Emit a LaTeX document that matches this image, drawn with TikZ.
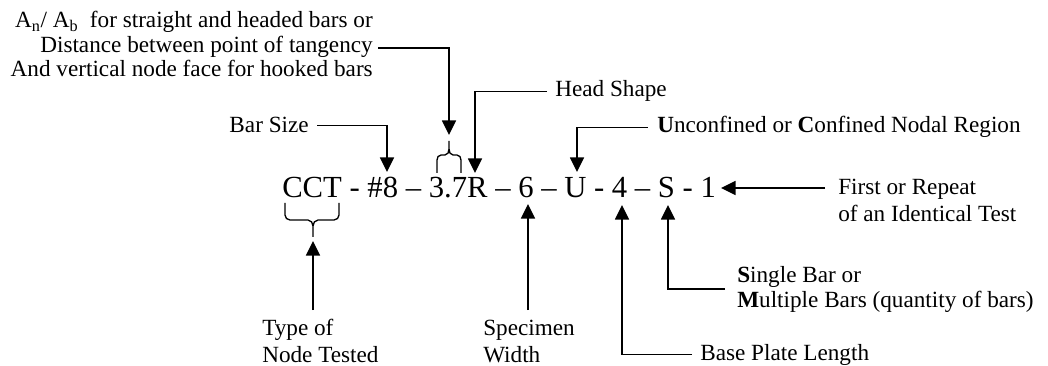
\documentclass[tikz,border=0pt]{standalone}
\usepackage{fontspec}
\setmainfont{Liberation Serif}
\usetikzlibrary{arrows.meta}
\begin{document}
\begin{tikzpicture}[x=0.75pt,y=-0.75pt,
  lbl/.style={font=\fontsize{17.4pt}{20.25pt}\selectfont, inner sep=0pt},
  codefont/.style={font=\fontsize{23pt}{26pt}\selectfont, inner sep=0pt},
  conn/.style={line width=1.2pt},
  arr/.style={conn, -{Triangle[length=11pt,width=10.5pt]}},
  brc/.style={line width=1pt}]
\useasboundingbox (0,0) rectangle (1048,366);
% code string
\node[codefont, anchor=base west] (code) at (282,198)
  {CCT - \#8 \textendash{} 3.7R \textendash{} 6 \textendash{} U - 4 \textendash{} S - 1};
% labels (base anchor of a multi-line node = baseline of its last line)
\node[lbl, font=\fontsize{17.4pt}{18.4pt}\selectfont, anchor=base east, align=right] (ratio) at (373,77)
  {A\textsubscript{n}/ A\textsubscript{b}\ \ for straight and headed bars or\\
   Distance between point of tangency\\
   And vertical node face for hooked bars};
\node[lbl, anchor=base east] (barsize) at (309,133) {Bar Size};
\node[lbl, anchor=base west] (head) at (555,97) {Head Shape};
\node[lbl, anchor=base west] (conf) at (657,133) {\textbf{U}nconfined or \textbf{C}onfined Nodal Region};
\node[lbl, anchor=base west, align=left] (first) at (838,222) {First or Repeat\\of an Identical Test};
\node[lbl, anchor=base west, align=left] (type) at (262,362) {Type of\\Node Tested};
\node[lbl, anchor=base west, align=left] (spec) at (483,362) {Specimen\\Width};
\node[lbl, font=\fontsize{17.4pt}{18.75pt}\selectfont, anchor=base west, align=left] (single) at (737,307)
  {\textbf{S}ingle Bar or\\\textbf{M}ultiple Bars (quantity of bars)};
\node[lbl, anchor=base west] (base) at (700,360) {Base Plate Length};
% arrow targets
\coordinate (t8) at (387,172);
\coordinate (tbr) at (449,135);
\coordinate (tR) at (475,173);
\coordinate (tU) at (577,172);
\coordinate (t1) at (721,188);
\coordinate (tcct) at (313,241);
\coordinate (t6) at (528,204);
\coordinate (t4) at (622,205);
\coordinate (tS) at (668,205);
% connector free ends
\coordinate (tang) at (378,48);
\coordinate (firstend) at (825,188);
\coordinate (typend) at (313,310);
\coordinate (specend) at (528,310);
% connectors
\draw[arr] (tang) -| (tbr);
\draw[arr] ([xshift=6pt]barsize.east) -| (t8);
\draw[arr] ([xshift=-6pt]head.west) -| (tR);
\draw[arr] ([xshift=-7pt]conf.west) -| (tU);
\draw[arr] (firstend) -- (t1);
\draw[arr] (typend) -- (tcct);
\draw[arr] (specend) -- (t6);
\draw[arr] ([xshift=-6pt]base.west) -| (t4);
\draw[arr] ([xshift=-9pt]single.west) -| (tS);
% braces
\draw[brc] (437,173) -- (437,160) to[out=90,in=180] (441,155) -- (445,155)
  to[out=0,in=-90] (449,149) -- (449,141)
  (449,149) to[out=-90,in=180] (453,155) -- (457,155)
  to[out=0,in=90] (461,160) -- (461,173);
\draw[brc] (285,203) -- (285,215) to[out=-90,in=180] (290,220) -- (308,220)
  to[out=0,in=90] (313,226) -- (313,237)
  (313,226) to[out=90,in=180] (318,220) -- (334,220)
  to[out=0,in=-90] (339,215) -- (339,203);
\end{tikzpicture}
\end{document}
